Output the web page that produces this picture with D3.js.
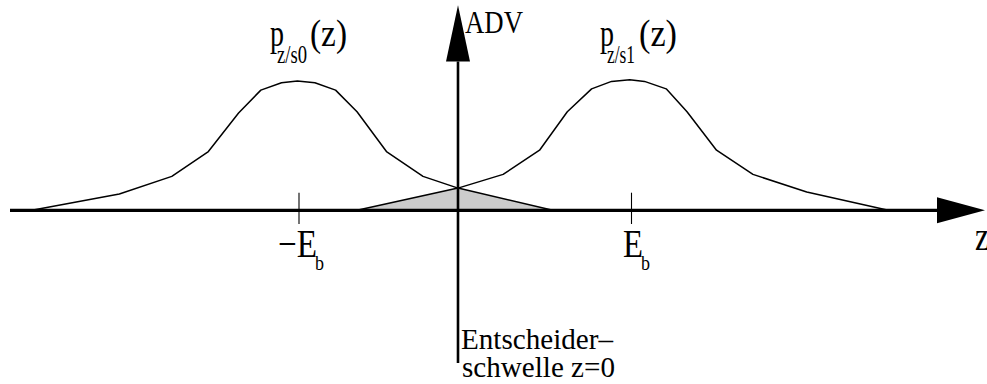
<!DOCTYPE html>
<html>
<head>
<meta charset="utf-8">
<script src="https://cdn.jsdelivr.net/npm/d3@7/dist/d3.min.js"></script>
<style>
  html, body { margin: 0; padding: 0; background: #fff; }
  svg { display: block; }
</style>
</head>
<body>
<svg id="chart" width="987" height="384"></svg>
<script>
// Decision variable z (in units of E_b) and the two conditional densities
const densityS0Z = [-2.68, -2.13, -1.80, -1.57, -1.38, -1.24, -1.11, -1.01, -0.90, -0.77, -0.635, -0.45, -0.22, 0, 0.546];
const densityS0P = [0, 0.125, 0.26, 0.45, 0.745, 0.92, 0.977, 0.99, 0.977, 0.92, 0.755, 0.45, 0.26, 0.17, 0];
const densityS1Z = [-0.635, 0, 0.26, 0.47, 0.63, 0.77, 0.885, 0.99, 1.075, 1.20, 1.32, 1.49, 1.70, 2.01, 2.48];
const densityS1P = [0, 0.17, 0.275, 0.46, 0.755, 0.93, 0.987, 1.0, 0.987, 0.93, 0.755, 0.46, 0.275, 0.14, 0];

// Tick positions on the z axis and their labels
const tickValues = [-1, 1];
const tickLabels = ["\u2212E", "E"];
const tickSubscripts = ["b", "b"];

// Decision threshold
const thresholdZ = 0;

const FONT = "Liberation Serif, DejaVu Serif, serif";

const svg = d3.select("#chart");

// z axis: the drawing uses a slightly different unit on each side of the threshold
const x = d3.scaleLinear().domain([-1, 0, 1]).range([299, 458, 631.5]);
const y = d3.scaleLinear().domain([0, 1]).range([210.3, 79.7]);

const zAxisStart = x.invert(10);
const zAxisArrowBase = x.invert(937);
const zAxisTip = x.invert(985);

const s0 = densityS0Z.map((z, i) => ({ z, p: densityS0P[i] }));
const s1 = densityS1Z.map((z, i) => ({ z, p: densityS1P[i] }));

// Overlap region: tail of s1 left of the threshold, tail of s0 right of it
const overlap = s1.filter(d => d.z <= thresholdZ).concat(s0.filter(d => d.z > thresholdZ));

svg.append("path")
  .datum(overlap)
  .attr("fill", "#cccccc")
  .attr("stroke", "none")
  .attr("d", d3.area().x(d => x(d.z)).y0(y(0)).y1(d => y(d.p)));

const line = d3.line().x(d => x(d.z)).y(d => y(d.p));

[s0, s1].forEach(series => {
  svg.append("path")
    .datum(series)
    .attr("fill", "none")
    .attr("stroke", "#000")
    .attr("stroke-width", 1.5)
    .attr("stroke-linejoin", "round")
    .attr("d", line);
});

// horizontal z axis with arrow
svg.append("line")
  .attr("x1", x(zAxisStart)).attr("x2", x(zAxisArrowBase))
  .attr("y1", y(0)).attr("y2", y(0))
  .attr("stroke", "#000").attr("stroke-width", 3.3);
svg.append("path")
  .attr("d", `M${x(zAxisArrowBase)},${y(0) - 13}L${x(zAxisTip)},${y(0)}L${x(zAxisArrowBase)},${y(0) + 13}Z`)
  .attr("fill", "#000");

// vertical threshold line / ADV axis with arrow
const yAxisTop = 1.14;      // arrow base, in density units
const yAxisTip = 1.57;
const yAxisBottom = -1.17;
const tx = x(thresholdZ);
svg.append("line")
  .attr("x1", tx).attr("x2", tx)
  .attr("y1", y(yAxisBottom)).attr("y2", y(yAxisTop))
  .attr("stroke", "#000").attr("stroke-width", 2.6);
svg.append("path")
  .attr("d", `M${tx - 12},${y(yAxisTop)}L${tx},${y(yAxisTip)}L${tx + 12},${y(yAxisTop)}Z`)
  .attr("fill", "#000");

// ticks at -E_b and E_b
svg.selectAll(".tick")
  .data(tickValues)
  .join("line")
  .attr("class", "tick")
  .attr("x1", d => x(d)).attr("x2", d => x(d))
  .attr("y1", 192.7).attr("y2", 224)
  .attr("stroke", "#000").attr("stroke-width", 1.1);

function label(t, px, py, size, len) {
  const el = svg.append("text")
    .attr("x", px).attr("y", py)
    .style("font-family", FONT)
    .attr("font-size", size)
    .attr("fill", "#000")
    .text(t);
  if (len) el.attr("textLength", len).attr("lengthAdjust", "spacingAndGlyphs");
  return el;
}

// tick labels
const tickLabelLeft = [278, 623];
const tickLabelLen = [39, 20];
tickValues.forEach((v, i) => {
  label(tickLabels[i], tickLabelLeft[i], 257, 40, tickLabelLen[i]);
  label(tickSubscripts[i], tickLabelLeft[i] + tickLabelLen[i] - 2, 269.5, 21, 9);
});

// density labels
label("p", 270, 45.5, 38, 14);
label("z/s0", 277, 63, 26, 30);
label("(z)", 310, 45.5, 38, 37);

label("p", 600, 45.5, 38, 14);
label("z/s1", 607, 63, 26, 28);
label("(z)", 639, 45.5, 38, 38);

// axis names
label("ADV", 465, 33.3, 31, 58);
label("z", 975, 250, 40, 14);

// threshold caption
label("Entscheider\u2013", 461, 349.3, 30, 152);
label("schwelle z=0", 462, 377, 30, 153);
</script>
</body>
</html>
